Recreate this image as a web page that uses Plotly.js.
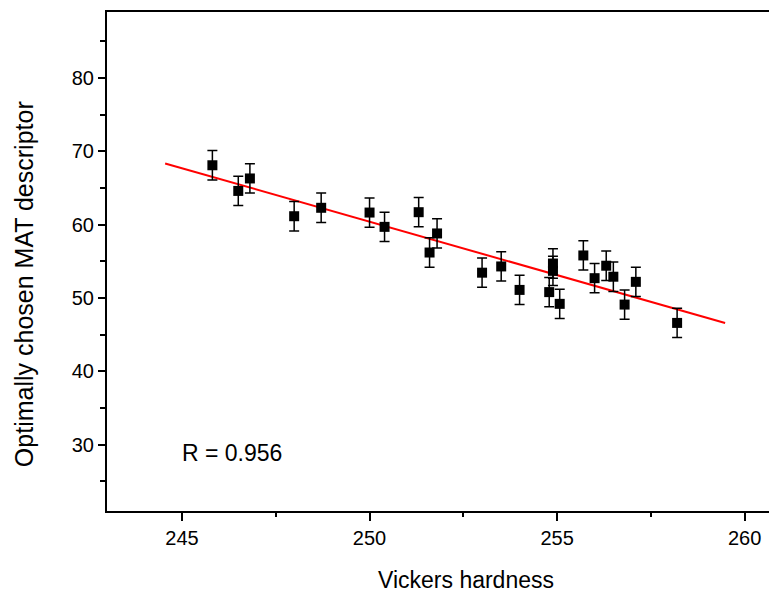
<!DOCTYPE html>
<html>
<head>
<meta charset="utf-8">
<script src="https://cdn.plot.ly/plotly-3.0.1.min.js"></script>
<style>html,body{margin:0;padding:0;background:#fff;overflow:hidden}</style>
</head>
<body>
<div id="chart" style="width:769px;height:592px"></div>
<script>
// Data
var hardness = [245.81, 246.50, 246.81, 247.99, 248.71, 250.00, 250.40, 251.31, 251.60, 251.80,
                253.00, 253.51, 254.00, 254.79, 254.89, 254.89, 255.07, 255.70, 256.00, 256.31,
                256.50, 256.80, 257.10, 258.20];
var descriptor = [68.1, 64.6, 66.3, 61.15, 62.3, 61.65, 59.7, 61.7, 56.2, 58.8,
                  53.45, 54.3, 51.1, 50.8, 54.7, 53.7, 49.2, 55.8, 52.7, 54.4,
                  52.9, 49.1, 52.2, 46.6];
var errors = [2.0, 2.0, 2.0, 2.0, 2.0, 2.0, 2.0, 2.0, 2.0, 2.0,
              2.0, 2.0, 2.0, 2.0, 2.0, 2.0, 2.0, 2.0, 2.0, 2.0,
              2.0, 2.0, 2.0, 2.0];
var fitX = [244.55, 259.48];
var fitY = [68.35, 46.58];
var xTickVals = [245, 250, 255, 260];
var yTickVals = [30, 40, 50, 60, 70, 80];
var xTitle = "Vickers hardness";
var yTitle = "Optimally chosen MAT descriptor";
var rLabel = "R = 0.956";

var traces = [
  {
    x: fitX, y: fitY, type: 'scatter', mode: 'lines',
    line: {color: '#ff0000', width: 2}, hoverinfo: 'skip', showlegend: false
  },
  {
    x: hardness, y: descriptor, type: 'scatter', mode: 'markers',
    marker: {symbol: 'square', size: 10, color: '#000000'},
    error_y: {type: 'data', array: errors, visible: true, color: '#000000', thickness: 1.5, width: 5},
    showlegend: false
  }
];

var fam = 'Liberation Sans, Arial, sans-serif';
var axisFont = {family: fam, size: 20, color: '#000'};
var titleFont = {family: fam, size: 23, color: '#000'};
var layout = {
  width: 769, height: 592,
  margin: {l: 107, r: 0, t: 12, b: 81},
  paper_bgcolor: '#fff', plot_bgcolor: '#fff',
  showlegend: false,
  xaxis: {
    range: [243, 260.65],
    tickvals: xTickVals,
    ticks: 'outside', ticklen: 8, tickwidth: 2, tickcolor: '#000',
    minor: {dtick: 2.5, tick0: 242.5, ticks: 'outside', ticklen: 4, tickwidth: 2, tickcolor: '#000', showgrid: false},
    showline: true, linewidth: 2, linecolor: '#000', mirror: true,
    showgrid: false, zeroline: false,
    tickfont: axisFont
  },
  yaxis: {
    range: [20.95, 89],
    tickvals: yTickVals,
    ticks: 'outside', ticklen: 7, tickwidth: 2, tickcolor: '#000',
    minor: {dtick: 5, tick0: 25, ticks: 'outside', ticklen: 5, tickwidth: 2, tickcolor: '#000', showgrid: false},
    showline: true, linewidth: 2, linecolor: '#000', mirror: false,
    showgrid: false, zeroline: false,
    tickfont: axisFont
  },
  annotations: [
    {
      x: 244.95, y: 28.9, xref: 'x', yref: 'y', text: rLabel, showarrow: false,
      xanchor: 'left', yanchor: 'middle', font: titleFont
    },
    {
      x: 0.5423, y: -0.139, xref: 'paper', yref: 'paper', text: xTitle, showarrow: false,
      xanchor: 'center', yanchor: 'middle', font: titleFont
    },
    {
      x: -0.1254, y: 0.4546, xref: 'paper', yref: 'paper', text: yTitle, showarrow: false,
      textangle: -90, xanchor: 'center', yanchor: 'middle', font: {family: fam, size: 25, color: '#000'}
    }
  ]
};

Plotly.newPlot('chart', traces, layout, {displayModeBar: false, staticPlot: true});
</script>
</body>
</html>
